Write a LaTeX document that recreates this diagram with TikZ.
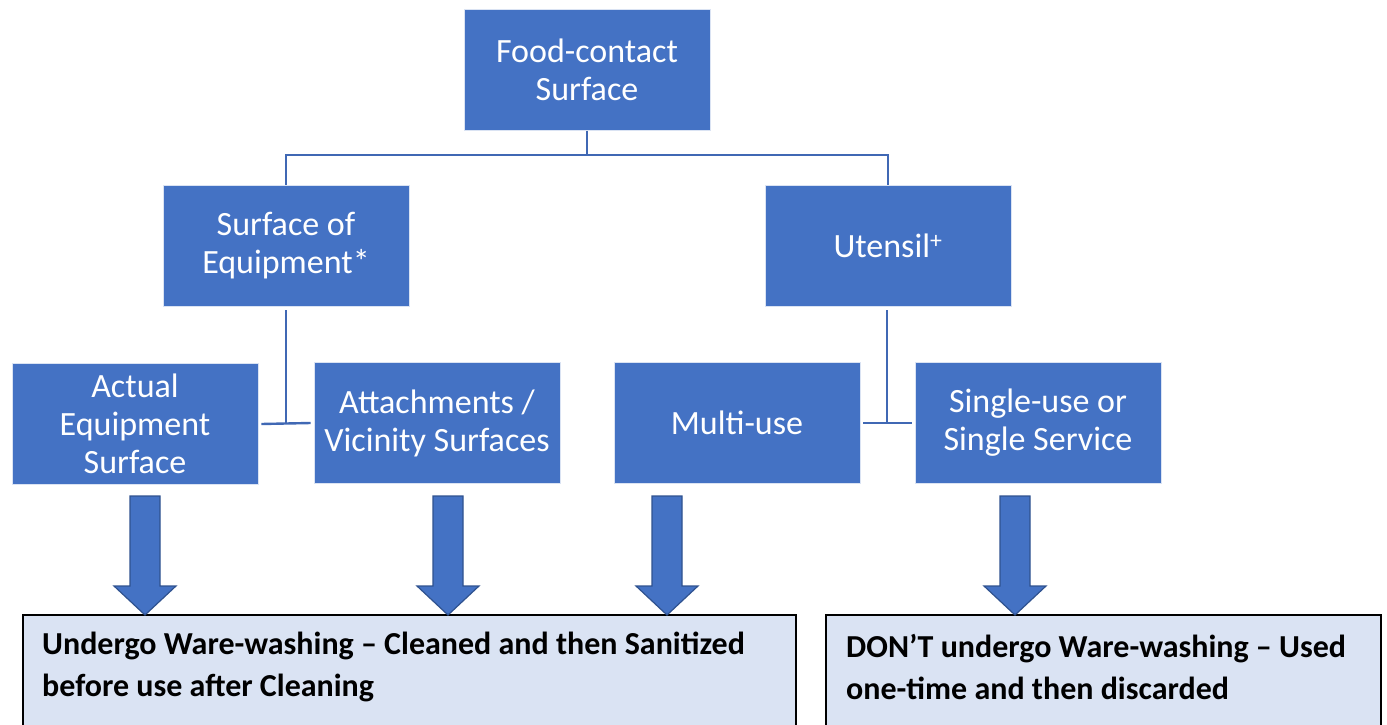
\documentclass[tikz,border=0pt]{standalone}
\usepackage{fontspec}
\setmainfont{Carlito}
\definecolor{boxblue}{HTML}{4472C4}
\definecolor{lineblue}{HTML}{4068B4}
\definecolor{arrowedge}{HTML}{2F528F}
\definecolor{paleblue}{HTML}{DAE3F3}
\begin{document}
\begin{tikzpicture}[x=1pt,y=-1pt,
  bluebox/.style={draw=white!80!boxblue, line width=0.8pt, fill=boxblue, text=white,
    minimum width=246pt, minimum height=121pt, inner sep=0pt, align=center,
    font=\fontsize{34}{38}\selectfont},
  conn/.style={draw=lineblue, line width=2.4pt},
  blockarrow/.style={draw=arrowedge, line width=1.2pt, fill=boxblue, line join=miter},
  outbox/.style={draw=black, line width=2pt, fill=paleblue, inner sep=0pt},
  outtext/.style={anchor=west, align=left, inner sep=0pt,
    font=\fontsize{32}{42}\selectfont\bfseries}
]
\useasboundingbox (0,0) rectangle (1387,725);

\node[bluebox] (food) at (587,70) {Food-contact\\Surface};
\node[bluebox] (equip) at (286,245.5) {Surface of\\Equipment*};
\node[bluebox] (uten) at (888,245.5) {Utensil\textsuperscript{+}};
\node[bluebox] (actual) at (135,424) {Actual\\Equipment\\Surface};
\node[bluebox] (attach) at (437,423) {Attachments /\\Vicinity Surfaces};
\node[bluebox] (multi) at (737,423) {Multi-use};
\node[bluebox] (single) at (1038,423) {Single-use or\\Single Service};

% tree connectors
\coordinate (jtop) at (587,155);
\draw[conn] (food.south) -- (jtop);
\draw[conn] (equip.north) |- (jtop) -| (uten.north);
\coordinate (jl) at (286,423);
\coordinate (jr) at (887,423);
\draw[conn] ([yshift=-4pt]equip.south) -- (jl);
\draw[conn] ([xshift=3pt]actual.east) -- ([xshift=-3pt]attach.west);
\draw[conn] ([xshift=-1pt,yshift=-4pt]uten.south) -- (jr);
\draw[conn] ([xshift=3pt]multi.east) -- ([xshift=-3pt]single.west);

% bottom boxes
\node[outbox, minimum width=773pt, minimum height=115pt, anchor=north west] (wash) at (22,614) {};
\node[outbox, minimum width=555pt, minimum height=115pt, anchor=north west] (nowash) at (825,614) {};
\node[outtext] (washtxt) at (42,667) {Undergo Ware-washing -- Cleaned and then Sanitized\\before use after Cleaning};
\node[outtext] (nowashtxt) at (846,667) {DON’T undergo Ware-washing -- Used\\one-time and then discarded};

% block arrows
\foreach \cx in {145,448,667,1015}{
  \draw[blockarrow] (\cx-15,496) -- (\cx+15,496) -- (\cx+15,586) -- (\cx+31,586)
     -- (\cx,615) -- (\cx-31,586) -- (\cx-15,586) -- cycle;
}
\end{tikzpicture}
\end{document}
